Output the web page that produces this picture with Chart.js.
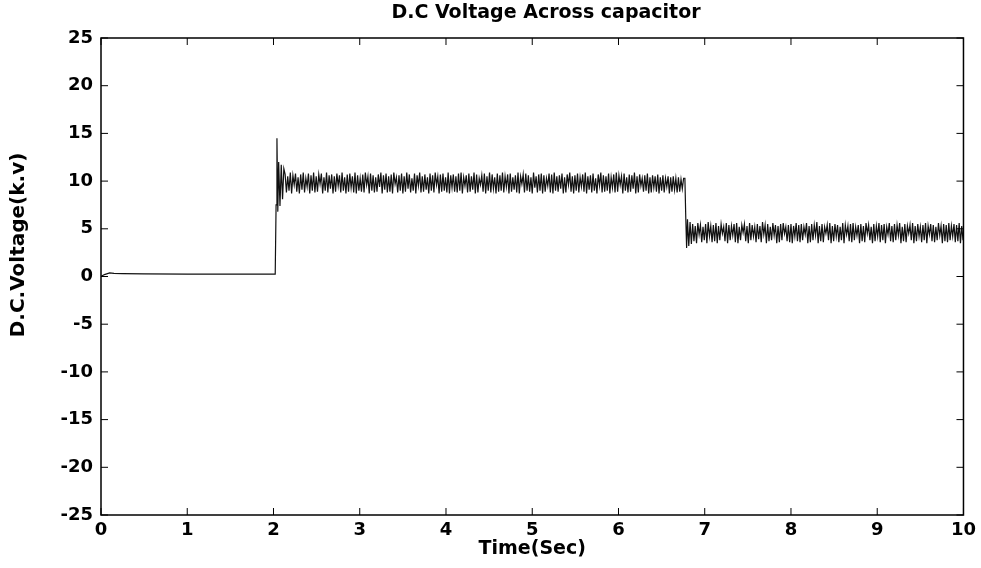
<!DOCTYPE html>
<html>
<head>
<meta charset="utf-8">
<script src="https://cdn.jsdelivr.net/npm/chart.js@4.4.1/dist/chart.umd.min.js"></script>
<style>
  html, body { margin: 0; padding: 0; background: #fff; }
  #wrap { width: 981px; height: 568px; }
</style>
</head>
<body>
<div id="wrap"><canvas id="graph1"></canvas></div>
<script>
// axis ticks
const xTicks = [0, 1, 2, 3, 4, 5, 6, 7, 8, 9, 10];
const yTicks = [-25, -20, -15, -10, -5, 0, 5, 10, 15, 20, 25];

// before the capacitor is charged (sec, kV)
const startT = [0, 0.04, 0.1, 0.15, 0.25, 0.5, 1.0, 1.5, 2.0];
const startV = [0, 0.2, 0.38, 0.32, 0.3, 0.27, 0.25, 0.25, 0.25];

// step up at ~2 s
const jumpT = [2.02, 2.03, 2.04, 2.05, 2.06, 2.075, 2.09, 2.105, 2.12];
const jumpV = [0.25, 7.5, 14.5, 6.8, 12.0, 7.4, 11.7, 8.1, 11.3];

// ripple around 10 kV, one sample every 0.015 s from 2.135 s
const highStart = 2.135;
const highV = [
  10.7, 8.8, 10.5, 9.0, 10.9, 8.7, 10.6, 9.6, 10.8, 8.9, 10.4, 8.7, 10.7, 9.1, 10.9, 8.8, 10.3, 9.4, 10.8, 8.7,
  10.6, 9.0, 10.9, 8.8, 10.5, 8.9, 10.7, 9.7, 10.8, 8.7, 10.4, 9.0, 10.9, 8.8, 10.6, 9.2, 10.7, 8.7, 10.5, 8.9,
  10.8, 9.5, 10.6, 8.8, 10.9, 9.0, 10.4, 8.7, 10.7, 8.9, 10.8, 9.3, 10.5, 8.8, 10.9, 8.7, 10.6, 9.0, 10.3, 8.9,
  10.7, 8.8, 10.9, 9.6, 10.5, 8.7, 10.8, 9.0, 10.6, 8.8, 10.4, 8.9, 10.7, 9.4, 10.9, 8.7, 10.6, 9.1, 10.8, 8.8,
  10.5, 8.9, 10.7, 8.7, 10.9, 9.7, 10.4, 8.8, 10.6, 9.0, 10.8, 8.7, 10.5, 8.9, 10.9, 9.2, 10.7, 8.8, 10.3, 9.0,
  10.8, 8.7, 10.6, 9.5, 10.9, 8.8, 10.5, 8.9, 10.7, 9.1, 10.4, 8.7, 10.8, 9.0, 10.6, 8.8, 10.9, 9.6, 10.5, 8.7,
  10.7, 8.9, 10.8, 9.0, 10.4, 8.8, 10.9, 8.7, 10.6, 9.3, 10.7, 8.9, 10.5, 8.8, 10.8, 9.0, 10.9, 8.7, 10.4, 9.5,
  10.6, 8.8, 10.8, 8.9, 10.5, 9.1, 10.9, 8.7, 10.7, 8.8, 10.3, 9.6, 10.6, 8.9, 10.8, 8.7, 10.5, 9.0, 10.9, 8.8,
  10.7, 9.2, 10.4, 8.7, 10.8, 8.9, 10.6, 9.0, 10.9, 8.8, 10.5, 9.4, 10.7, 8.7, 10.8, 8.9, 10.4, 9.1, 10.6, 8.8,
  10.9, 8.7, 10.5, 9.7, 10.7, 8.8, 10.8, 9.0, 10.6, 8.9, 10.4, 8.7, 10.9, 9.3, 10.5, 8.8, 10.7, 9.0, 10.8, 8.7,
  10.6, 8.9, 10.3, 9.5, 10.8, 8.8, 10.7, 8.7, 10.9, 9.0, 10.5, 8.9, 10.6, 9.2, 10.8, 8.7, 10.4, 8.8, 10.7, 9.6,
  10.9, 8.9, 10.5, 8.7, 10.6, 9.0, 10.8, 8.8, 10.4, 9.4, 10.7, 8.9, 10.9, 8.7, 10.5, 9.1, 10.6, 8.8, 10.8, 9.0,
  10.3, 8.7, 10.7, 9.5, 10.9, 8.8, 10.6, 8.9, 10.5, 9.0, 10.8, 8.7, 10.4, 9.3, 10.7, 8.8, 10.9, 8.9, 10.6, 9.6,
  10.5, 8.7, 10.8, 9.0, 10.4, 8.8, 10.7, 8.9, 10.6, 9.2, 10.9, 8.7, 10.5, 8.8, 10.7, 9.5, 10.3, 8.9, 10.6, 9.0,
  10.8, 8.7, 10.4, 8.8, 10.6, 9.3, 10.5, 8.9, 10.7, 8.7, 10.4, 9.0, 10.6, 8.8, 10.3, 9.4, 10.5, 8.7, 10.4, 8.9,
  10.5, 9.1, 10.3, 8.8, 10.4, 8.9, 10.2, 9.2, 10.3
];

// step down at ~6.8 s
const dropT = [6.77, 6.78, 6.79, 6.80, 6.815, 6.83, 6.845];
const dropV = [10.3, 6.2, 3.0, 6.0, 3.2, 5.7, 3.4];

// ripple around 4.5 kV, one sample every 0.015 s from 6.86 s
const lowStart = 6.86;
const lowV = [
  5.5, 3.7, 5.3, 3.5, 5.6, 4.4, 5.4, 3.6, 5.2, 3.8, 5.5, 3.5, 5.7, 4.2, 5.3, 3.6, 5.4, 3.7, 5.6, 3.5,
  5.3, 3.8, 5.5, 4.5, 5.2, 3.7, 5.6, 3.5, 5.4, 3.8, 5.3, 4.3, 5.5, 3.6, 5.6, 3.5, 5.2, 3.8, 5.4, 4.6,
  5.5, 3.7, 5.3, 3.5, 5.6, 3.8, 5.4, 4.2, 5.2, 3.6, 5.5, 3.9, 5.3, 3.6, 5.7, 4.4, 5.4, 3.5, 5.5, 3.7,
  5.2, 3.8, 5.6, 4.3, 5.4, 3.5, 5.3, 3.6, 5.5, 3.8, 5.6, 4.5, 5.2, 3.7, 5.4, 3.6, 5.5, 3.5, 5.3, 4.2,
  5.6, 3.7, 5.4, 3.6, 5.5, 3.8, 5.2, 4.4, 5.6, 3.5, 5.3, 3.6, 5.5, 3.8, 5.4, 4.3, 5.7, 3.5, 5.3, 3.7,
  5.5, 3.6, 5.2, 4.5, 5.4, 3.8, 5.6, 3.5, 5.3, 3.7, 5.5, 4.2, 5.4, 3.6, 5.2, 3.8, 5.6, 3.5, 5.4, 4.4,
  5.3, 3.7, 5.5, 3.6, 5.6, 3.8, 5.2, 4.3, 5.4, 3.5, 5.5, 3.7, 5.3, 3.6, 5.6, 4.5, 5.4, 3.8, 5.2, 3.5,
  5.5, 3.7, 5.3, 4.2, 5.6, 3.6, 5.4, 3.8, 5.5, 3.5, 5.2, 4.4, 5.6, 3.7, 5.3, 3.6, 5.5, 3.8, 5.4, 4.3,
  5.6, 3.5, 5.2, 3.7, 5.5, 3.6, 5.3, 4.5, 5.4, 3.8, 5.6, 3.5, 5.3, 3.7, 5.5, 4.2, 5.2, 3.6, 5.4, 3.8,
  5.6, 3.5, 5.3, 4.4, 5.5, 3.7, 5.4, 3.6, 5.2, 3.8, 5.6, 4.3, 5.3, 3.5, 5.5, 3.7, 5.4, 3.6, 5.6, 3.8,
  5.3, 4.2, 5.5, 3.6, 5.4, 3.7, 5.6, 3.5, 5.3, 3.8
];

const sampleStep = 0.015;

function pairs(ts, vs) {
    const out = [];
    for (let i = 0; i < vs.length; i++) {
        out.push({x: ts[i], y: vs[i]});
    }
    return out;
}

function sampled(t0, vs) {
    const out = [];
    for (let i = 0; i < vs.length; i++) {
        out.push({x: t0 + i * sampleStep, y: vs[i]});
    }
    return out;
}

const points = [].concat(
    pairs(startT, startV),
    pairs(jumpT, jumpV),
    sampled(highStart, highV),
    pairs(dropT, dropV),
    sampled(lowStart, lowV)
);

const tickFont = {family: 'DejaVu Sans', weight: 'bold', size: 18};

// matlab style box, inner ticks and the titles
const matlabBox = {
    id: 'matlabBox',
    afterDraw(chart) {
        const c = chart.ctx;
        const a = chart.chartArea;
        const xs = chart.scales.x;
        const ys = chart.scales.y;
        const len = 7;
        c.save();
        c.strokeStyle = '#000';
        c.lineWidth = 1.5;
        c.strokeRect(a.left, a.top, a.right - a.left, a.bottom - a.top);
        c.beginPath();
        xTicks.forEach(function (t) {
            const px = xs.getPixelForValue(t);
            c.moveTo(px, a.bottom); c.lineTo(px, a.bottom - len);
            c.moveTo(px, a.top); c.lineTo(px, a.top + len);
        });
        yTicks.forEach(function (t) {
            const py = ys.getPixelForValue(t);
            c.moveTo(a.left, py); c.lineTo(a.left + len, py);
            c.moveTo(a.right, py); c.lineTo(a.right - len, py);
        });
        c.lineWidth = 1;
        c.stroke();

        c.fillStyle = '#000';
        c.textAlign = 'center';
        c.textBaseline = 'middle';
        c.font = 'bold 19px "DejaVu Sans"';
        c.fillText('D.C Voltage Across capacitor', 546, 13);

        c.translate(19, 245);
        c.rotate(-Math.PI / 2);
        c.font = 'bold 20px "DejaVu Sans"';
        c.fillText('D.C.Voltage(k.v)', 0, 0);
        c.restore();
    }
};

const ctx = document.getElementById('graph1');
const data = {
    "datasets": [
        {
            "label": "Vdc",
            "data": points,
            "borderColor": "#111111",
            "borderWidth": 1.2,
            "pointRadius": 0,
            "tension": 0,
            "fill": false
        }
    ]
};
const options = {
    responsive: true,
    maintainAspectRatio: false,
    animation: false,
    layout: {padding: {left: 0, right: 17, top: 38, bottom: 0}},
    plugins: {
        legend: {display: false},
        title: {display: false},
        tooltip: {enabled: false}
    },
    scales: {
        x: {
            type: 'linear',
            min: 0,
            max: 10,
            afterBuildTicks(s) { s.ticks = xTicks.map(v => ({value: v})); },
            afterFit(s) { s.height = 53; },
            grid: {display: false, drawTicks: false},
            border: {display: false},
            ticks: {font: tickFont, color: '#000', padding: 5, maxRotation: 0},
            title: {
                display: true,
                text: 'Time(Sec)',
                color: '#000',
                font: {family: 'DejaVu Sans', weight: 'bold', size: 19},
                padding: {top: 0, bottom: 8}
            }
        },
        y: {
            type: 'linear',
            min: -25,
            max: 25,
            afterBuildTicks(s) { s.ticks = yTicks.map(v => ({value: v})); },
            afterFit(s) { s.width = 101; },
            grid: {display: false, drawTicks: false},
            border: {display: false},
            ticks: {font: tickFont, color: '#000', padding: 8}
        }
    }
};

new Chart(ctx, {
    type: 'line',
    data: data,
    options: options,
    plugins: [matlabBox]
});
</script>
</body>
</html>
